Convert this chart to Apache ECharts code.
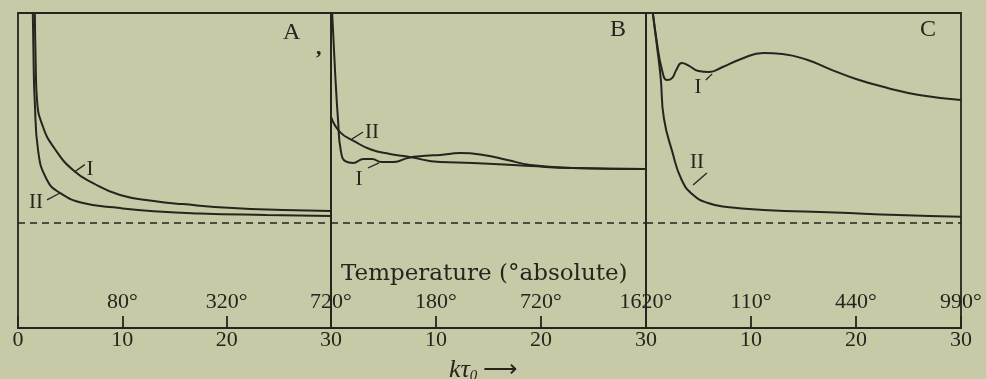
<!DOCTYPE html>
<html><head><meta charset="utf-8">
<script src="https://cdn.jsdelivr.net/npm/echarts@6/dist/echarts.min.js"></script>
<style>html,body{margin:0;padding:0;background:#c7c9a7}#c{width:986px;height:379px}</style>
</head><body><div id="c"></div><script>
// ---- data ----
const kTicks = [0, 10, 20, 30];
const tempA = [80, 320, 720];
const tempB = [180, 720, 1620];
const tempC = [110, 440, 990];
const panelNames = ['A', 'B', 'C'];
const curveNames = ['I', 'II'];

const curveA_I = [[1.6,10.6],[1.7,7.5],[1.82,5.86],[2.4,4.57],[3.5,3.55],[5.27,2.52],[7.19,1.9],[9.78,1.33],[13,1.05],[15.8,0.9],[20.6,0.71],[25.4,0.62],[30,0.57]];
const curveA_II = [[1.4,10.6],[1.5,7.5],[1.6,5.86],[1.92,3.48],[2.78,2.05],[4.03,1.43],[6.23,0.95],[9.78,0.71],[13,0.56],[17.4,0.45],[23.8,0.38],[30,0.33]];
const curveB_I = [[0.05,10.6],[0.38,7.3],[0.67,4.9],[0.95,3.4],[1.4,2.93],[2.1,2.86],[3.1,3.05],[3.9,3.05],[4.8,2.9],[6.0,2.9],[7.3,3.1],[9.0,3.2],[10.4,3.24],[12.3,3.33],[14.5,3.24],[16.8,3.0],[19.0,2.76],[23.0,2.62],[30,2.57]];
const curveB_II = [[0,5.05],[0.86,4.33],[2.2,3.9],[3.8,3.5],[5.6,3.29],[7.5,3.14],[10.4,2.9],[13.5,2.86],[19.0,2.71],[23.0,2.62],[30,2.57]];
const curveC_I = [[0.5,10.6],[1.05,8.57],[1.52,7.3],[2.0,6.81],[2.48,6.9],[2.9,7.3],[3.4,7.62],[4.1,7.48],[5.0,7.24],[6.0,7.19],[7.3,7.43],[9.0,7.8],[11.2,8.1],[13.0,8.05],[15.4,7.76],[17.5,7.33],[20.0,6.86],[23.0,6.43],[26.0,6.1],[30,5.86]];
const curveC_II = [[0.5,10.6],[1.05,8.4],[1.4,6.9],[1.7,5.0],[2.5,3.4],[3.4,2.05],[4.5,1.33],[5.9,0.95],[7.7,0.76],[11.2,0.62],[18.0,0.5],[24.0,0.38],[30,0.3]];
const asymptote = 0;

// ---- annotation placement (data units) ----
const ann = [
  {labels: [[6.9,2.55,'I'],[1.73,1.0,'II']], leaders: [[[5.4,2.43],[6.4,2.78]],[[2.78,1.1],[4.03,1.43]]]},
  {labels: [[3.9,4.29,'II'],[2.67,2.05,'I']], leaders: [[[2.0,4.0],[3.05,4.33]],[[3.52,2.62],[4.57,2.86]]]},
  {labels: [[4.95,6.43,'I'],[4.86,2.9,'II']], leaders: [[[5.7,6.81],[6.3,7.1]],[[4.48,1.81],[5.8,2.38]]]}
];
const curves = [[curveA_I, curveA_II],[curveB_I, curveB_II],[curveC_I, curveC_II]];
const temps = [tempA, tempB, tempC];

const ink = '#25251e';
const serif = 'Liberation Serif';
const grids = [
  {left: 18, width: 313, top: 13, height: 315},
  {left: 331, width: 315, top: 13, height: 315},
  {left: 646, width: 315, top: 13, height: 315}
].map(g => Object.assign(g, {show: true, borderColor: ink, borderWidth: 1.8, backgroundColor: 'transparent'}));

const xAxes = [], yAxes = [], series = [];
for (let p = 0; p < 3; p++) {
  xAxes.push({
    type: 'value', gridIndex: p, min: kTicks[0], max: kTicks[kTicks.length-1], interval: 10,
    axisLine: {show: true, onZero: false, lineStyle: {color: ink, width: 1.8}},
    axisTick: {show: true, inside: true, length: 12, lineStyle: {color: ink, width: 1.8}},
    splitLine: {show: false},
    axisLabel: {show: true, showMinLabel: p === 0, margin: 1, color: ink, fontFamily: serif, fontSize: 22,
      formatter: v => String(v)}
  });
  yAxes.push({type: 'value', gridIndex: p, min: -5, max: 10, show: false});
}
for (let p = 0; p < 3; p++) {
  const t = temps[p];
  xAxes.push({
    type: 'value', gridIndex: p, min: kTicks[0], max: kTicks[kTicks.length-1], interval: 10, position: 'bottom',
    axisLine: {show: false}, axisTick: {show: false}, splitLine: {show: false},
    axisLabel: {show: true, inside: true, margin: 15, showMinLabel: false, color: ink, fontFamily: serif, fontSize: 22,
      formatter: v => { const i = kTicks.indexOf(v); return i > 0 ? t[i-1] + '°' : ''; }}
  });
}
for (let p = 0; p < 3; p++) {
  curves[p].forEach((d, ci) => {
    const s = {
      type: 'line', name: panelNames[p] + curveNames[ci], xAxisIndex: p, yAxisIndex: p, data: d,
      showSymbol: false, smooth: 0.5, clip: true,
      lineStyle: {color: ink, width: 2}, silent: true
    };
    if (ci === 0) s.markLine = {
      silent: true, symbol: ['none','none'], label: {show: false},
      lineStyle: {color: ink, type: [7,5], width: 1.7},
      data: [{yAxis: asymptote}]
    };
    series.push(s);
  });
  series.push({
    type: 'scatter', xAxisIndex: p, yAxisIndex: p, symbolSize: 1, silent: true,
    itemStyle: {color: 'rgba(0,0,0,0)'},
    data: ann[p].labels,
    label: {show: true, position: 'inside', formatter: q => q.value[2], color: ink, opacity: 1,
      textBorderWidth: 0, fontFamily: serif, fontSize: 21},
    markLine: {silent: true, symbol: ['none','none'], label: {show: false},
      lineStyle: {color: ink, type: 'solid', width: 1.3},
      data: ann[p].leaders.map(l => [{coord: l[0]}, {coord: l[1]}])}
  });
}

const chart = echarts.init(document.getElementById('c'), null, {renderer: 'canvas'});
chart.setOption({
  backgroundColor: '#c7c9a7',
  animation: false,
  title: [
    {text: 'Temperature (°absolute)', left: 336, top: 258, textStyle: {fontFamily: 'DejaVu Serif', fontSize: 23, fontWeight: 'normal', color: ink}},
    {text: '{k|kτ}{s|0} ⟶', left: 444, top: 352, textStyle: {rich: {
      k: {fontFamily: serif, fontStyle: 'italic', fontWeight: 'normal', fontSize: 26, color: ink},
      s: {fontFamily: serif, fontStyle: 'italic', fontWeight: 'normal', fontSize: 15, color: ink, verticalAlign: 'bottom', padding: [12,0,0,0]}
    }, fontSize: 24, fontWeight: 'normal', color: ink, fontFamily: serif}},
    {text: panelNames[0], left: 278, top: 16, textStyle: {fontFamily: serif, fontSize: 24, fontWeight: 'normal', color: ink}},
    {text: ',', left: 311, top: 32, textStyle: {fontFamily: serif, fontSize: 22, fontWeight: 'bold', color: ink}},
    {text: panelNames[1], left: 605, top: 13, textStyle: {fontFamily: serif, fontSize: 24, fontWeight: 'normal', color: ink}},
    {text: panelNames[2], left: 915, top: 13, textStyle: {fontFamily: serif, fontSize: 24, fontWeight: 'normal', color: ink}}
  ],
  grid: grids, xAxis: xAxes, yAxis: yAxes, series: series
});
</script></body></html>
